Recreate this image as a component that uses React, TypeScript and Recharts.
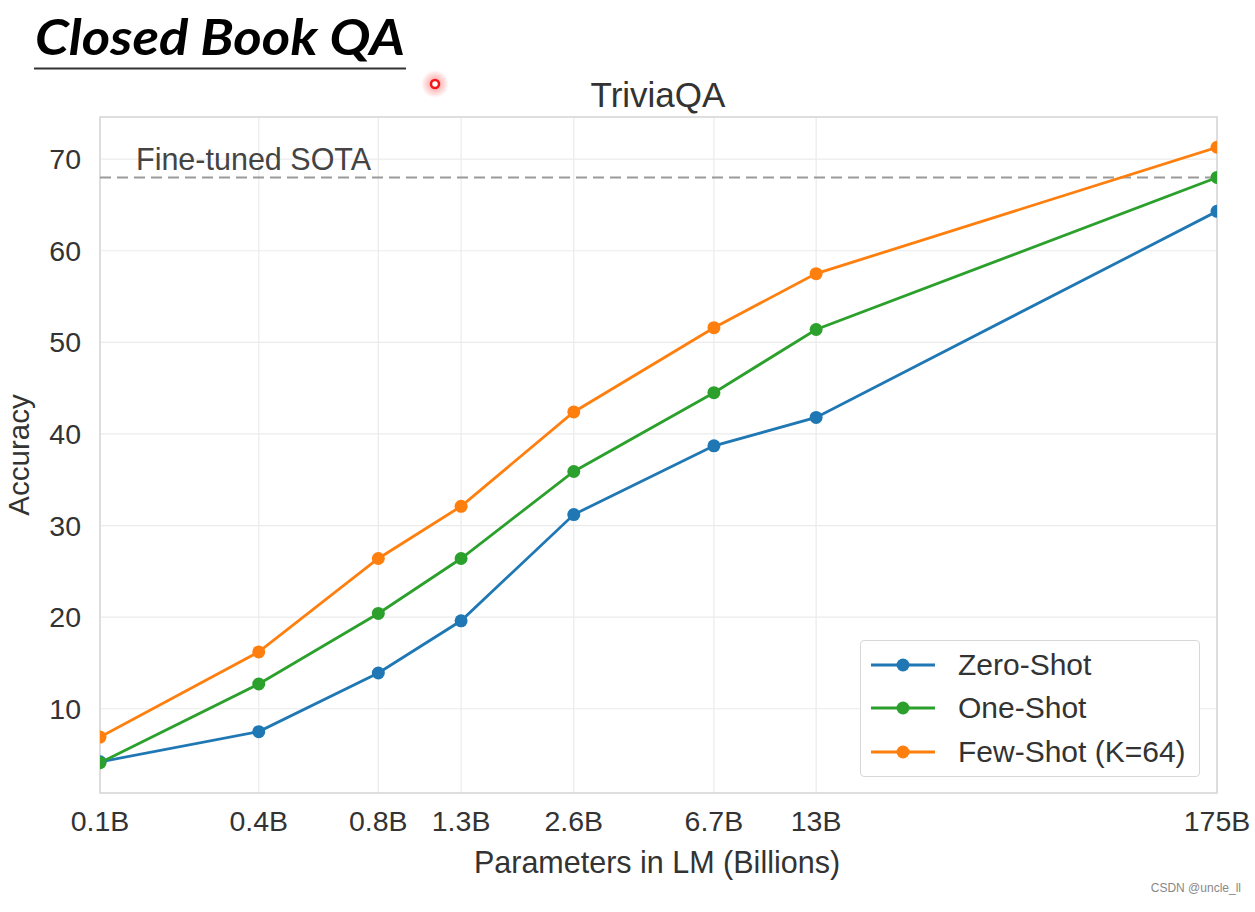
import { LineChart, Line, XAxis, YAxis, CartesianGrid, ReferenceLine, ReferenceArea } from "recharts";

// GPT-3 model sizes (billions), drawn on a log axis
const sizes = [0.125, 0.35, 0.76, 1.3, 2.7, 6.7, 13, 175];
const sizeLabels = ["0.1B", "0.4B", "0.8B", "1.3B", "2.6B", "6.7B", "13B", "175B"];

const zeroShot = [4.2, 7.5, 13.9, 19.6, 31.2, 38.7, 41.8, 64.3];
const oneShot = [4.1, 12.7, 20.4, 26.4, 35.9, 44.5, 51.4, 68.0];
const fewShot = [6.9, 16.2, 26.4, 32.1, 42.4, 51.6, 57.5, 71.3];

const sotaValue = 68;
const yTicks = [10, 20, 30, 40, 50, 60, 70];
const yDomain = [0.8, 74.6];

const series = [
  { key: "zero", name: "Zero-Shot", color: "#1f77b4" },
  { key: "one", name: "One-Shot", color: "#2ca02c" },
  { key: "few", name: "Few-Shot (K=64)", color: "#ff7f0e" },
];

const data = sizes.map((s, i) => ({
  size: s,
  zero: zeroShot[i],
  one: oneShot[i],
  few: fewShot[i],
}));

const FONT = "'Liberation Sans', Arial, sans-serif";

function LegendBox() {
  return (
    <div
      style={{
        position: "absolute",
        left: 860,
        top: 640,
        width: 340,
        height: 137,
        border: "1.5px solid #d8d8d8",
        borderRadius: 4,
        background: "#fff",
        boxSizing: "border-box",
        paddingTop: 2,
        fontFamily: FONT,
      }}
    >
      {series.map((s) => (
        <div key={s.key} style={{ display: "flex", alignItems: "center", height: 43.5 }}>
          <svg width={97} height={20} style={{ flex: "none" }}>
            <line x1={10} x2={74} y1={10} y2={10} stroke={s.color} strokeWidth={2.8} />
            <circle cx={42} cy={10} r={6.5} fill={s.color} />
          </svg>
          <span style={{ fontSize: 30, color: "#333" }}>{s.name}</span>
        </div>
      ))}
    </div>
  );
}

export default function App() {
  return (
    <div style={{ position: "absolute", left: 0, top: 0, width: 1255, height: 912, background: "#fff" }}>
      <LineChart width={1255} height={912} data={data} margin={{ top: 117, right: 38, bottom: 79, left: 40 }}>
        <CartesianGrid stroke="#ebebeb" strokeWidth={1.2} />
        <XAxis
          dataKey="size"
          type="number"
          scale="log"
          domain={[0.125, 175]}
          ticks={sizes}
          allowDataOverflow
          interval={0}
          height={40}
          tickLine={false}
          axisLine={false}
          tickMargin={12}
          tickFormatter={(v) => sizeLabels[sizes.indexOf(v)] ?? ""}
          tick={{ fontFamily: FONT, fontSize: 28.5, fill: "#333" }}
        />
        <YAxis
          type="number"
          domain={yDomain}
          ticks={yTicks}
          allowDataOverflow
          width={60}
          tickLine={false}
          axisLine={false}
          tickMargin={13}
          tick={{ fontFamily: FONT, fontSize: 28.5, fill: "#333" }}
        />
        <ReferenceArea
          x1={0.125}
          x2={175}
          y1={yDomain[0]}
          y2={yDomain[1]}
          fill="none"
          stroke="#d6d6d6"
          strokeWidth={1.5}
          ifOverflow="visible"
        />
        <ReferenceLine
          y={sotaValue}
          stroke="#9a9a9a"
          strokeWidth={2}
          strokeDasharray="11 6"
          label={(props: any) => (
            <text
              x={props.viewBox.x + 36}
              y={props.viewBox.y - 7}
              fontFamily={FONT}
              fontSize={30.5}
              fill="#444"
            >
              Fine-tuned SOTA
            </text>
          )}
        />
        {series.map((s) => (
          <Line
            key={s.key}
            dataKey={s.key}
            name={s.name}
            stroke={s.color}
            strokeWidth={2.8}
            dot={{ r: 6.5, fill: s.color, stroke: s.color, strokeWidth: 0 }}
            activeDot={false}
            isAnimationActive={false}
          />
        ))}
      </LineChart>

      <LegendBox />

      <svg width={1255} height={912} style={{ position: "absolute", left: 0, top: 0, pointerEvents: "none" }}>
        <text
          x={35}
          y={55}
          fontFamily="Lato, 'Open Sans', sans-serif"
          fontWeight="bold"
          fontStyle="italic"
          fontSize={50}
          fill="#000"
          textLength={370}
          lengthAdjust="spacingAndGlyphs"
        >
          Closed Book QA
        </text>
        <line x1={34} x2={406} y1={68.5} y2={68.5} stroke="#333" strokeWidth={2} />
        <defs>
          <radialGradient id="glow">
            <stop offset="0%" stopColor="#ff2020" stopOpacity={0.5} />
            <stop offset="100%" stopColor="#ff2020" stopOpacity={0} />
          </radialGradient>
        </defs>
        <circle cx={435} cy={84} r={14} fill="url(#glow)" />
        <circle cx={435} cy={84} r={4} fill="#fff" stroke="#f01818" strokeWidth={2.5} />
        <text x={658} y={107} textAnchor="middle" fontFamily={FONT} fontSize={35} fill="#333">
          TriviaQA
        </text>
        <text x={657} y={873} textAnchor="middle" fontFamily={FONT} fontSize={30.5} fill="#333">
          Parameters in LM (Billions)
        </text>
        <text
          x={0}
          y={0}
          transform="translate(29,455) rotate(-90)"
          textAnchor="middle"
          fontFamily={FONT}
          fontSize={29.5}
          fill="#333"
        >
          Accuracy
        </text>
        <text x={1241} y={892} textAnchor="end" fontFamily={FONT} fontSize={12} fill="#888">
          CSDN @uncle_ll
        </text>
      </svg>
    </div>
  );
}
